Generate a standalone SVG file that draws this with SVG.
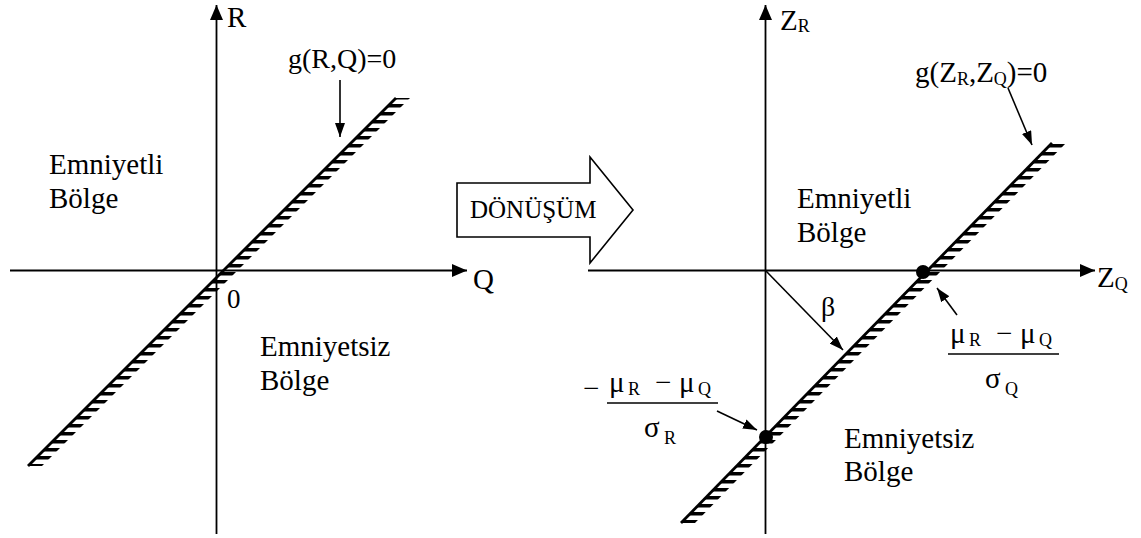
<svg xmlns="http://www.w3.org/2000/svg" width="1141" height="538" viewBox="0 0 1141 538">
<defs>
<style>
.ax{stroke:#000;stroke-width:1.8;fill:none}
.ln{stroke:#000;stroke-width:2.8;fill:none}
.pt{stroke:#000;stroke-width:1.6;fill:none}
.bar{stroke:#000;stroke-width:1.5}
</style>
<marker id="big" markerUnits="userSpaceOnUse" markerWidth="15" markerHeight="13" refX="15" refY="6.5" orient="auto"><path d="M0,0 L15,6.5 L0,13 z" fill="#000"/></marker>
<marker id="sm" markerUnits="userSpaceOnUse" markerWidth="14" markerHeight="10" refX="14" refY="5" orient="auto"><path d="M0,0 L14,5 L0,10 z" fill="#000"/></marker>
<pattern id="hatch" patternUnits="userSpaceOnUse" width="20" height="8"><rect x="0" y="0" width="20" height="3.5" fill="#000"/></pattern>
</defs>

<g id="connectors">
<line class="ax" x1="216.5" y1="534" x2="216.5" y2="5" marker-end="url(#big)"/>
<line class="ax" x1="10" y1="270.5" x2="467" y2="270.5" marker-end="url(#big)"/>
<line class="pt" x1="340" y1="80" x2="340" y2="137" marker-end="url(#sm)"/>
<line class="ax" x1="765.5" y1="534" x2="765.5" y2="5" marker-end="url(#big)"/>
<line class="ax" x1="588" y1="270.5" x2="1095" y2="270.5" marker-end="url(#big)"/>
<line class="pt" x1="1008" y1="88" x2="1032" y2="145" marker-end="url(#sm)"/>
<line class="pt" x1="766" y1="271" x2="843" y2="350" marker-end="url(#sm)"/>
<line class="pt" x1="957" y1="315" x2="937" y2="288" marker-end="url(#sm)"/>
<line class="pt" x1="717" y1="411" x2="757" y2="430" marker-end="url(#sm)"/>
</g>

<g id="limit-left">
<polygon points="28,466 396,98 410,98 42,466" fill="url(#hatch)"/>
<line class="ln" x1="28" y1="466" x2="396" y2="98"/>
</g>

<g id="limit-right">
<polygon points="681,523 1052,143 1066,143 695,523" fill="url(#hatch)"/>
<line class="ln" x1="681" y1="523" x2="1052" y2="143"/>
<circle cx="923" cy="272" r="7" fill="#000"/>
<circle cx="766" cy="437" r="7" fill="#000"/>
</g>

<g id="transform-arrow">
<path d="M457,183 H590 V157 L633,210 L590,263 V237 H457 Z" fill="#fff" stroke="#000" stroke-width="1.6"/>
<text x="470" y="218" style="font-family:'Liberation Serif';font-size:25px">DÖNÜŞÜM</text>
</g>

<g id="labels-left">
<text x="227" y="27" style="font-family:'Liberation Serif';font-size:29px">R</text>
<text x="473" y="289" style="font-family:'Liberation Serif';font-size:29px">Q</text>
<text x="227" y="308" style="font-family:'Liberation Serif';font-size:27px">0</text>
<text x="288" y="68" style="font-family:'Liberation Serif';font-size:28px">g(R,Q)=0</text>
<text x="49" y="174" style="font-family:'Liberation Serif';font-size:29px">Emniyetli</text>
<text x="49" y="208" style="font-family:'Liberation Serif';font-size:29px">Bölge</text>
<text x="260" y="356" style="font-family:'Liberation Serif';font-size:29px">Emniyetsiz</text>
<text x="260" y="390" style="font-family:'Liberation Serif';font-size:29px">Bölge</text>
</g>

<g id="labels-right">
<text x="780" y="30" style="font-family:'Liberation Serif';font-size:29px">Z<tspan dy="2" style="font-size:18px">R</tspan></text>
<text x="1097" y="287" style="font-family:'Liberation Serif';font-size:29px">Z<tspan dy="3" style="font-size:18px">Q</tspan></text>
<text x="915" y="82" style="font-family:'Liberation Serif';font-size:29px">g(Z<tspan dy="3" style="font-size:18px">R</tspan><tspan dy="-3">,Z</tspan><tspan dy="3" style="font-size:18px">Q</tspan><tspan dy="-3">)=0</tspan></text>
<text x="797" y="208" style="font-family:'Liberation Serif';font-size:29px">Emniyetli</text>
<text x="797" y="242" style="font-family:'Liberation Serif';font-size:29px">Bölge</text>
<text x="821" y="316" style="font-family:'Liberation Serif';font-size:28px">β</text>
<text x="844" y="448" style="font-family:'Liberation Serif';font-size:29px">Emniyetsiz</text>
<text x="844" y="481" style="font-family:'Liberation Serif';font-size:29px">Bölge</text>
</g>

<g id="fraction-q">
<text y="343" style="font-family:'Liberation Serif';font-size:29px"><tspan x="950">μ</tspan><tspan x="969" dy="3" style="font-size:18px">R</tspan><tspan x="996" dy="-3">−</tspan><tspan x="1020">μ</tspan><tspan x="1039" dy="3" style="font-size:18px">Q</tspan></text>
<line class="bar" x1="948" y1="354" x2="1059" y2="354"/>
<text y="388" style="font-family:'Liberation Serif';font-size:29px"><tspan x="985">σ</tspan><tspan x="1005" dy="7" style="font-size:18px">Q</tspan></text>
</g>

<g id="fraction-r">
<text x="583" y="398" style="font-family:'Liberation Serif';font-size:29px">−</text>
<text y="392" style="font-family:'Liberation Serif';font-size:29px"><tspan x="609">μ</tspan><tspan x="628" dy="3" style="font-size:18px">R</tspan><tspan x="655" dy="-3">−</tspan><tspan x="679">μ</tspan><tspan x="698" dy="3" style="font-size:18px">Q</tspan></text>
<line class="bar" x1="607" y1="403" x2="718" y2="403"/>
<text y="437" style="font-family:'Liberation Serif';font-size:29px"><tspan x="644">σ</tspan><tspan x="664" dy="7" style="font-size:18px">R</tspan></text>
</g>
</svg>
